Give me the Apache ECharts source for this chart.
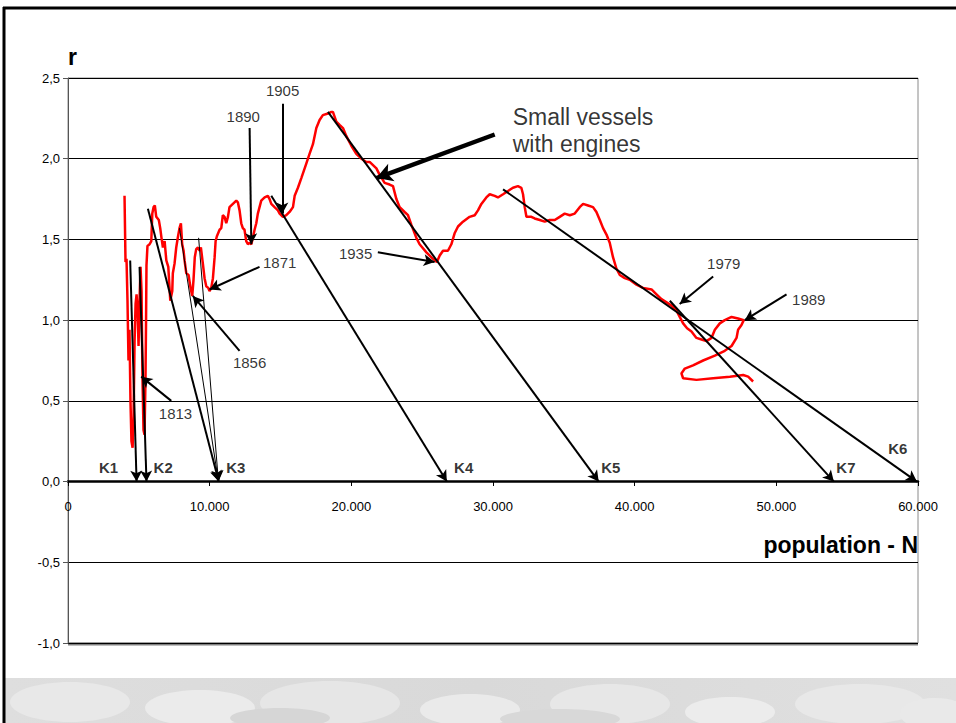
<!DOCTYPE html>
<html><head><meta charset="utf-8">
<script src="https://cdn.jsdelivr.net/npm/echarts/dist/echarts.min.js"></script>
<style>html,body{margin:0;padding:0;background:#fff}#c{width:956px;height:723px}</style>
</head><body><div id="c"></div>
<script>
// population N (x) and growth rate r (y) along the trajectory, in time order
const N = [3990,4060,4130,4200,4270,4340,4410,4480,4560,4630,4700,4770,4840,4910,4980,5050,5120,5190,5260,5330,5400,5470,5510,5540,5610,5760,5880,5950,6040,6130,6230,6410,6510,6600,6700,6820,6940,7080,7220,7360,7400,7520,7640,7750,7870,7970,8060,8160,8230,8350,8510,8650,8770,8860,8950,9050,9170,9290,9380,9520,9640,9760,9900,9990,10110,10230,10350,10420,10510,10700,10820,10930,11050,11170,11290,11400,11640,11880,11990,12110,12230,12340,12460,12580,12700,12820,12940,13050,13170,13290,13400,13520,13640,13880,14110,14230,14350,14580,14820,14940,15170,15410,15640,15880,16000,16230,16470,16820,17050,17290,17530,17760,17990,18350,18590,18700,18940,19170,19410,19650,20000,20350,20710,21060,21290,21530,21770,22000,22350,22700,22940,23180,23410,23760,24000,24240,24590,24820,25300,25760,26040,26240,26470,26820,27060,27300,27530,27880,28350,28710,28940,29180,29530,29770,30120,30350,30710,31060,31410,31760,32000,32120,32240,32360,32710,32940,33300,33650,34000,34360,34710,35060,35420,35770,36120,36360,36710,37060,37300,37540,37770,38010,38240,38470,38710,38950,39300,39650,40130,40590,41190,41540,41890,42250,42600,42950,43180,43420,43700,44010,44360,44720,45070,45420,45660,46010,46360,46840,47300,47700,47540,47300,47190,46840,46360,45660,44830,44120,43540,43300,43420,44360,45540,46720,47660,48010,48360];
const R = [1.77,1.36,1.38,1.12,0.75,0.94,0.50,0.25,0.21,0.41,0.87,1.10,1.16,1.06,0.84,1.12,1.33,1.18,0.63,0.32,0.29,0.63,1.00,1.34,1.46,1.47,1.49,1.66,1.70,1.71,1.64,1.62,1.57,1.51,1.45,1.49,1.37,1.33,1.12,1.18,1.29,1.35,1.45,1.51,1.57,1.60,1.47,1.43,1.37,1.29,1.28,1.20,1.15,1.25,1.39,1.44,1.45,1.43,1.45,1.35,1.26,1.21,1.20,1.18,1.20,1.26,1.39,1.49,1.52,1.56,1.57,1.65,1.64,1.60,1.64,1.70,1.72,1.74,1.73,1.68,1.60,1.57,1.56,1.49,1.47,1.48,1.47,1.51,1.56,1.60,1.66,1.70,1.74,1.76,1.77,1.75,1.72,1.70,1.68,1.66,1.64,1.65,1.67,1.70,1.77,1.82,1.88,1.97,2.03,2.09,2.19,2.24,2.27,2.28,2.29,2.29,2.23,2.21,2.19,2.14,2.08,2.03,2.00,1.98,1.98,1.96,1.94,1.90,1.85,1.84,1.83,1.75,1.70,1.67,1.65,1.59,1.51,1.47,1.42,1.38,1.36,1.40,1.43,1.43,1.47,1.54,1.58,1.61,1.64,1.65,1.68,1.72,1.76,1.78,1.77,1.76,1.78,1.80,1.82,1.83,1.82,1.78,1.70,1.64,1.64,1.63,1.62,1.61,1.62,1.62,1.64,1.66,1.65,1.66,1.70,1.72,1.71,1.70,1.67,1.62,1.57,1.53,1.48,1.39,1.32,1.28,1.26,1.25,1.22,1.20,1.19,1.16,1.13,1.11,1.09,1.06,1.02,0.98,0.95,0.93,0.89,0.88,0.87,0.89,0.94,0.98,1.00,1.02,1.01,1.00,0.97,0.94,0.89,0.84,0.81,0.78,0.75,0.72,0.70,0.67,0.64,0.63,0.64,0.65,0.66,0.65,0.62];

// tick labels
const xTickLabels = ['0','10.000','20.000','30.000','40.000','50.000','60.000'];
const yTickLabels = ['-1,0','-0,5','0,0','0,5','1,0','1,5','2,0','2,5'];

// annotation arrows (data units, arrowhead at x2,y2)
const arrowX1 = [4390,5050,5640,7870,9220,12820,15130,14350,18350,30120,21870,30710,42480,45540,50720,13520,12110,7290];
const arrowY1 = [1.37,1.33,1.69,1.57,1.51,2.19,2.34,1.77,2.29,2.15,1.42,1.81,1.12,1.27,1.16,1.33,0.81,0.50];
const arrowX2 = [4840,5540,10640,10620,10620,12940,15130,26740,37460,21770,25880,59920,54060,43180,47770,9990,8810,5170];
const arrowY2 = [0,0,0,0,0,1.47,1.66,0,0,1.88,1.36,0,0,1.10,1.00,1.19,1.15,0.65];
const arrowW  = [2,2,2,1,1,2,2,2,2,4.5,2,2,2,2,2,2,2,2];

// year annotations
const yearText = ['1813','1856','1871','1890','1905','1935','1979','1989'];
const yearX = [7590,12820,14940,12370,15150,20300,46290,52290];
const yearY = [0.42,0.74,1.36,2.26,2.42,1.41,1.35,1.13];
// carrying-capacity labels
const kText = ['K1','K2','K3','K4','K5','K6','K7'];
const kX = [2860,6720,11850,27930,38310,58580,54910];
const kY = [0.087,0.087,0.087,0.087,0.087,0.204,0.087];
// note text
const noteText = ['Small vessels','with engines'];
const noteX = [31390,31390];
const noteY = [2.26,2.09];

const FONT = 'Liberation Sans, Arial, sans-serif';
const chart = echarts.init(document.getElementById('c'), null, {renderer:'svg'});

const labelData = [];
yearText.forEach((t,i)=>labelData.push({value:[yearX[i],yearY[i]],name:t,
  label:{show:true,position:'inside',formatter:t,fontSize:15,color:'#000',fontFamily:FONT}}));
kText.forEach((t,i)=>labelData.push({value:[kX[i],kY[i]],name:t,
  label:{show:true,position:'inside',formatter:t,fontSize:15,fontWeight:'bold',color:'#000',fontFamily:FONT}}));
noteText.forEach((t,i)=>labelData.push({value:[noteX[i],noteY[i]],name:t,
  label:{show:true,position:'inside',align:'left',formatter:t,fontSize:23,color:'#000',fontFamily:FONT}}));

const arrowData = arrowX1.map((x,i)=>{
  const sz = arrowW[i] > 3 ? [14,16] : [9,11];
  return [
    {coord:[x,arrowY1[i]], symbolSize:sz, lineStyle:{width:arrowW[i],color:'#000',type:'solid'}},
    {coord:[arrowX2[i],arrowY2[i]], symbolSize:sz}
  ];
});

// subtle stone texture at bottom (decoration)
const stones = [];
const stoneSpec = [[70,702,60,20,'#e8e8e8'],[200,708,55,18,'#ebebeb'],[330,703,70,22,'#e6e6e6'],[470,710,50,16,'#eaeaea'],[610,704,60,20,'#e7e7e7'],[730,712,45,15,'#ececec'],[860,704,65,20,'#e8e8e8'],[280,718,50,10,'#d6d6d6'],[560,719,60,10,'#d8d8d8'],[935,714,35,16,'#e9e9e9']];
stoneSpec.forEach(s=>stones.push({type:'ellipse',shape:{cx:s[0],cy:s[1],rx:s[2],ry:s[3]},
  style:{fill:s[4]},silent:true,z:-9}));

chart.setOption({
  animation:false,
  backgroundColor:'#fff',
  grid:{left:68,right:38,top:78,bottom:80,containLabel:false,outerBoundsMode:'none',show:true,borderColor:'#8a8a8a',borderWidth:1},
  xAxis:{type:'value',min:0,max:60000,interval:10000,offset:-162,
    axisLine:{onZero:false,lineStyle:{color:'#000',width:2.5}},
    axisTick:{show:true,length:5,lineStyle:{color:'#000',width:1}},
    axisLabel:{fontSize:13,color:'#000',fontFamily:FONT,margin:19,
      formatter:v=>xTickLabels[Math.round(v/10000)]},
    splitLine:{show:false}},
  yAxis:{type:'value',min:-1,max:2.5,interval:0.5,
    axisLine:{show:true,onZero:false,lineStyle:{color:'#555',width:1}},
    axisTick:{show:true,length:5,lineStyle:{color:'#555'}},
    axisLabel:{fontSize:13,color:'#000',fontFamily:FONT,margin:8,
      formatter:v=>yTickLabels[Math.round((v+1)/0.5)]},
    splitLine:{show:true,lineStyle:{color:'#000',width:1}}},
  graphic:[
    {type:'rect',shape:{x:5,y:678,width:951,height:45},
      style:{fill:new echarts.graphic.LinearGradient(0,0,1,0,[{offset:0,color:'#dedede'},{offset:0.5,color:'#d9d9d9'},{offset:1,color:'#e0e0e0'}])},silent:true,z:-10},
    ...stones,
    {type:'line',shape:{x1:4,y1:7,x2:4,y2:723},style:{stroke:'#000',lineWidth:3},silent:true},
    {type:'line',shape:{x1:3,y1:8,x2:956,y2:8},style:{stroke:'#000',lineWidth:3},silent:true},
    {type:'line',shape:{x1:68,y1:644,x2:918,y2:644},style:{stroke:'#808080',lineWidth:3},silent:true},
    {type:'text',x:68,y:57,style:{text:'r',font:'bold 23px '+FONT,fill:'#000',textAlign:'left',textVerticalAlign:'middle'}},
    {type:'text',x:918,y:545,style:{text:'population - N',font:'bold 23px '+FONT,fill:'#000',textAlign:'right',textVerticalAlign:'middle'}}
  ],
  series:[
    {type:'line',data:N.map((x,i)=>[x,R[i]]),showSymbol:false,symbol:'none',
      lineStyle:{color:'#ff0000',width:2.5},z:3,silent:true},
    {type:'scatter',data:labelData,symbolSize:0,z:5,silent:true,
      markLine:{silent:true,symbol:['none','arrow'],label:{show:false},emphasis:{disabled:true},
        lineStyle:{color:'#000',type:'solid'},data:arrowData}}
  ]
});
</script></body></html>
